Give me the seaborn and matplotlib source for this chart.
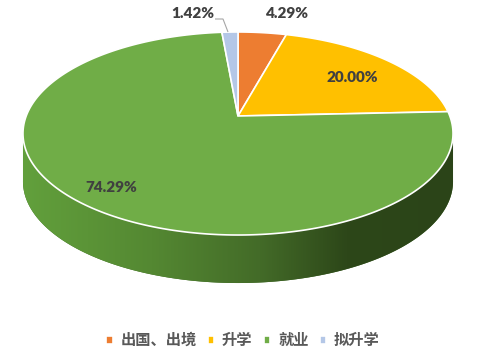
import numpy as np
import matplotlib
matplotlib.use("Agg")
import matplotlib.pyplot as plt
import seaborn as sns
from matplotlib.colors import LinearSegmentedColormap
from matplotlib.patches import Polygon
from matplotlib.path import Path
from matplotlib.transforms import Transform, Affine2D

# Graduate destinations (share of graduates, %)
categories = ["出国、出境", "升学", "就业", "拟升学"]
shares = [4.29, 20.00, 74.29, 1.42]
slice_colors = ["#ED7D31", "#FFC000", "#70AD47", "#B4C7E7"]
base_colors = ["#9c5220", "#a67d00", "#3f6a27", "#7f8fab"]

sns.set_theme(style="white")
plt.rcParams["font.family"] = ["Lato", "Noto Sans CJK SC", "DejaVu Sans"]

W, H = 478, 364
fig = plt.figure(figsize=(W / 100, H / 100), dpi=100)
ax = fig.add_axes([0, 0, 1, 1])

# disc geometry in pixels: pie centre, radii, perspective strength, thickness
cx0, cy0, Rx, Ry, tilt, depth = 238, 116, 211.8, 98.5, 0.1724, 48


def Y(py):
    """Pixel row (from top) -> data y."""
    return H - py


class Perspective(Transform):
    """Projects the unit disc as seen from above at an angle."""
    input_dims = output_dims = 2
    is_affine = False
    has_inverse = False

    def __init__(self, a):
        super().__init__()
        self.a = a

    def transform_non_affine(self, xy):
        xy = np.asarray(xy, dtype=float)
        w = 1 + self.a * xy[:, 1]
        return np.column_stack([xy[:, 0] / w, xy[:, 1] / w])

    def transform_path_non_affine(self, path):
        pts, codes = [], []
        for seg, code in path.iter_bezier():
            if code == Path.MOVETO:
                p = seg.control_points[-1:]
                c = [Path.MOVETO]
            else:
                n = 2 if code == Path.LINETO else 40
                p = seg(np.linspace(0, 1, n)[1:])
                c = [Path.LINETO] * len(p)
            pts.append(p)
            codes += c
        verts = self.transform_non_affine(np.vstack(pts))
        return Path(verts, codes)


def disc_transform(shift=0.0):
    return (Perspective(tilt)
            + Affine2D().scale(Rx, Ry).translate(cx0, Y(cy0) - shift)
            + ax.transData)


def project(phi, shift=0.0):
    u, v = np.cos(phi), np.sin(phi)
    w = 1 + tilt * v
    return np.column_stack([cx0 + Rx * u / w, Y(cy0) - shift + Ry * v / w])


# underside of the disc
base, _ = ax.pie(shares, colors=base_colors, startangle=90,
                 counterclock=False, radius=1, center=(0, 0),
                 wedgeprops=dict(linewidth=0, zorder=1))
for wdg in base:
    wdg.set_transform(disc_transform(depth))

# shaded rim between the top face and the underside
s = np.arcsin(tilt)
phi = np.linspace(np.pi + s, 2 * np.pi - s, 300)
rim = Polygon(np.vstack([project(phi), project(phi[::-1], depth)]),
              closed=True, facecolor="none", edgecolor="none")
ax.add_patch(rim)
rim_cmap = LinearSegmentedColormap.from_list(
    "rim", [(0.0, "#62a03c"), (0.3, "#548832"), (0.55, "#436b28"),
            (0.75, "#2d4719"), (1.0, "#2b4418")])
x_lo, x_hi = cx0 - 1.02 * Rx, cx0 + 1.02 * Rx
im = ax.imshow(np.linspace(0, 1, 256)[None, :], cmap=rim_cmap,
               extent=(x_lo, x_hi, 0, H), aspect="auto", zorder=2)
im.set_clip_path(rim)

# top face
wedges, _ = ax.pie(shares, colors=slice_colors, startangle=90,
                   counterclock=False, radius=1, center=(0, 0),
                   wedgeprops=dict(edgecolor="white", linewidth=1.2,
                                   zorder=3))
for wdg in wedges:
    wdg.set_transform(disc_transform())

# value labels
label_pos = [(287, 13), (352, 77), (111, 187), (193, 13)]
for v, (px, py) in zip(shares, label_pos):
    ax.text(px, Y(py), f"{v:.2f}%", ha="center", va="center",
            fontsize=11, fontweight="heavy", color="#404040",
            family="Lato", zorder=5)

# leader line for the smallest slice
ax.plot([215, 223, 228], [Y(19), Y(19), Y(32)], color="#a6a6a6",
        lw=0.8, zorder=4, solid_capstyle="butt")

ax.set_aspect("auto")
ax.set_xlim(0, W)
ax.set_ylim(0, H)
ax.set_axis_off()

ax.legend(wedges, categories, loc="center",
          bbox_to_anchor=(243 / W, 1 - 340 / H), ncol=4, frameon=False,
          handlelength=0.42, handleheight=0.42, handletextpad=0.5,
          columnspacing=0.75, labelcolor="#595959",
          prop=dict(family=["Noto Sans CJK SC", "DejaVu Sans"], size=11,
                    weight="bold"))

fig.savefig("out.png", dpi=100, facecolor="white")
